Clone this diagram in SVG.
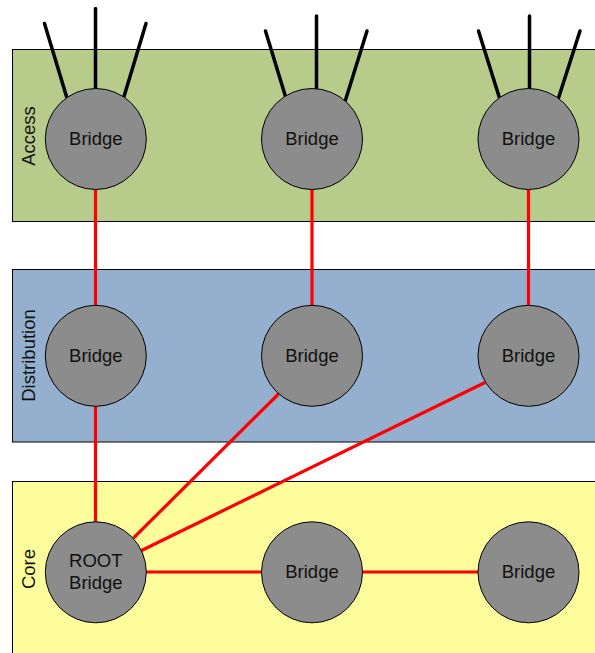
<svg xmlns="http://www.w3.org/2000/svg" width="595" height="653" viewBox="0 0 595 653">
  <style>
    .layer { stroke: #000; stroke-width: 1; }
    .bridge { fill: #8c8c8c; stroke: #000; stroke-width: 1; }
    .lbl { font-family: "Liberation Sans", Arial, sans-serif; font-size: 18.5px; fill: #111; text-anchor: middle; }
    .link { stroke: #ff0000; stroke-width: 3.2; fill: none; }
    .ant { stroke: #000; stroke-width: 3.5; stroke-linecap: round; fill: none; }
  </style>

  <!-- layer bands -->
  <g id="layer-access">
    <rect class="layer" x="12.5" y="49.5" width="600" height="172" fill="#b7cb8a"/>
    <text class="lbl" transform="translate(34.5,136) rotate(-90)">Access</text>
  </g>
  <g id="layer-distribution">
    <rect class="layer" x="12.5" y="269.5" width="600" height="172.5" fill="#95afcf"/>
    <text class="lbl" transform="translate(34.5,355.5) rotate(-90)">Distribution</text>
  </g>
  <g id="layer-core">
    <rect class="layer" x="12.5" y="481.5" width="600" height="200" fill="#fefd9b"/>
    <text class="lbl" transform="translate(34.5,569) rotate(-90)">Core</text>
  </g>

  <!-- antennas on the access bridges -->
  <g id="antennas">
    <line class="ant" x1="44.5" y1="23.5" x2="66.5" y2="96.5"/>
    <line class="ant" x1="95.5" y1="8.5" x2="95.5" y2="89"/>
    <line class="ant" x1="146" y1="23.5" x2="124" y2="96.5"/>

    <line class="ant" x1="265.5" y1="31" x2="285.5" y2="96.5"/>
    <line class="ant" x1="316.5" y1="16" x2="316.5" y2="89"/>
    <line class="ant" x1="367" y1="31" x2="345.5" y2="100"/>

    <line class="ant" x1="478.5" y1="31" x2="499.5" y2="98"/>
    <line class="ant" x1="529.5" y1="16" x2="529.5" y2="88.5"/>
    <line class="ant" x1="580" y1="31" x2="558.5" y2="98"/>
  </g>

  <!-- links between bridges -->
  <g id="connectors">
    <line class="link" x1="95.5" y1="190" x2="95.5" y2="305"/>
    <line class="link" x1="312" y1="190" x2="312" y2="305"/>
    <line class="link" x1="528.5" y1="190" x2="528.5" y2="305"/>
    <line class="link" x1="95.5" y1="406" x2="95.5" y2="522"/>
    <line class="link" x1="133.5" y1="538" x2="278.5" y2="394"/>
    <line class="link" x1="141.5" y1="550.5" x2="485" y2="382.5"/>
    <line class="link" x1="146" y1="572" x2="262" y2="572"/>
    <line class="link" x1="362" y1="572" x2="478" y2="572"/>
  </g>

  <!-- access bridges -->
  <g id="access-bridge-1">
    <circle class="bridge" cx="95.8" cy="139" r="50.5"/>
    <text class="lbl" x="95.8" y="145">Bridge</text>
  </g>
  <g id="access-bridge-2">
    <circle class="bridge" cx="312" cy="139" r="50.5"/>
    <text class="lbl" x="312" y="145">Bridge</text>
  </g>
  <g id="access-bridge-3">
    <circle class="bridge" cx="528.5" cy="139" r="50.5"/>
    <text class="lbl" x="528.5" y="145">Bridge</text>
  </g>

  <!-- distribution bridges -->
  <g id="dist-bridge-1">
    <circle class="bridge" cx="95.8" cy="355.8" r="50.5"/>
    <text class="lbl" x="95.8" y="361.8">Bridge</text>
  </g>
  <g id="dist-bridge-2">
    <circle class="bridge" cx="312" cy="355.8" r="50.5"/>
    <text class="lbl" x="312" y="361.8">Bridge</text>
  </g>
  <g id="dist-bridge-3">
    <circle class="bridge" cx="528.5" cy="355.8" r="50.5"/>
    <text class="lbl" x="528.5" y="361.8">Bridge</text>
  </g>

  <!-- core bridges -->
  <g id="root-bridge">
    <circle class="bridge" cx="95.8" cy="572.3" r="50.5"/>
    <text class="lbl" x="95.8" y="566.7">ROOT</text>
    <text class="lbl" x="95.8" y="589">Bridge</text>
  </g>
  <g id="core-bridge-2">
    <circle class="bridge" cx="312" cy="572.3" r="50.5"/>
    <text class="lbl" x="312" y="578.3">Bridge</text>
  </g>
  <g id="core-bridge-3">
    <circle class="bridge" cx="528.5" cy="572.3" r="50.5"/>
    <text class="lbl" x="528.5" y="578.3">Bridge</text>
  </g>
</svg>
